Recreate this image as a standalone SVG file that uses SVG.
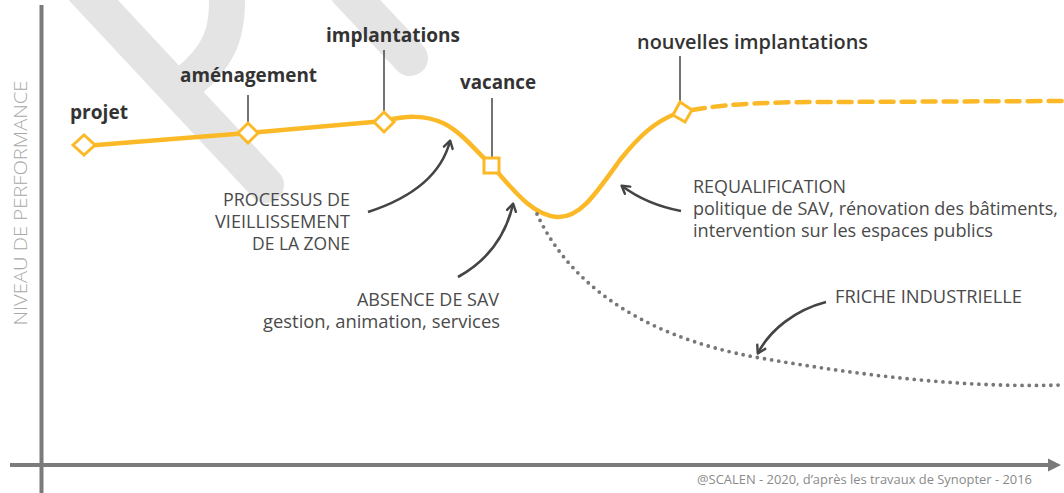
<svg xmlns="http://www.w3.org/2000/svg" width="1064" height="493" viewBox="0 0 1064 493">
<style>
.wm{fill:none;stroke:#e4e4e4;stroke-width:36}
.axis{stroke:#7b7b7b;stroke-width:4;fill:none}
.curve{fill:none;stroke:#fbb927;stroke-width:4.5;stroke-linejoin:round;stroke-linecap:round}
.mk{fill:#fff;stroke:#fbb927;stroke-width:3}
.lead{stroke:#444;stroke-width:1.5}
.arr{fill:none;stroke:#444;stroke-width:2.6;marker-end:url(#ah)}
.bold{font-family:"Open Sans","Liberation Sans",sans-serif;font-weight:700;font-size:19.5px;fill:#333}
.semi{font-family:"Open Sans","Liberation Sans",sans-serif;font-weight:600;font-size:19.5px;fill:#333}
.lbl{font-family:"Open Sans","Liberation Sans",sans-serif;font-size:17.6px;fill:#4a4a4a}
</style>
<defs>
<marker id="ah" markerUnits="userSpaceOnUse" viewBox="0 0 12 12" refX="9" refY="6" markerWidth="12" markerHeight="12" orient="auto">
<path d="M2,1.5 L9.5,6 L2,10.5" fill="none" stroke="#444" stroke-width="2.4" stroke-linecap="round" stroke-linejoin="round"/>
</marker>
</defs>
<rect width="1064" height="493" fill="#fff"/>
<g id="watermark">
<path class="wm" d="M82,-12 L266,185" stroke-linecap="round"/>
<path class="wm" d="M227,-5 C228,30 222,55 185,84" stroke-width="38"/>
<path class="wm" d="M348,-8 L410,58" stroke-width="34" stroke-linecap="round"/>
</g>
<g id="axes">
<line class="axis" x1="41.5" y1="5" x2="41.5" y2="493"/>
<line class="axis" x1="10" y1="465" x2="1050" y2="465"/>
<polygon points="1048,458.5 1061,465 1048,471.5" fill="#7b7b7b"/>
<text transform="translate(27,203) rotate(-90)" text-anchor="middle" font-family="'Open Sans','Liberation Sans',sans-serif" font-size="17.5" font-weight="300" fill="#a8a8a8" textLength="245" lengthAdjust="spacingAndGlyphs">NIVEAU DE PERFORMANCE</text>
</g>
<g id="connectors">
<path class="curve" d="M84,146 L248,133 L384,121 C405,116 425,114 445,124 C462,133 475,150 491,165 C510,185 530,215 557,217 C580,218 595,195 620,160 C640,135 655,122 675,114"/>
<path class="curve" d="M692,110 C730,103 780,102 830,102 L1062,101" stroke-dasharray="13 8" stroke-linecap="butt"/>
<path d="M537,214 C565,275 630,335 760,358 C860,375 960,388 1060,385" fill="none" stroke="#777" stroke-width="3.8" stroke-linecap="round" stroke-dasharray="0 7.2"/>
<line class="lead" x1="248" y1="95" x2="248" y2="123"/>
<line class="lead" x1="384" y1="50" x2="384" y2="112"/>
<line class="lead" x1="492" y1="98" x2="492" y2="158"/>
<line class="lead" x1="680" y1="56" x2="680" y2="102"/>
<path class="arr" d="M368,212 C405,200 440,180 450,141"/>
<path class="arr" d="M458,277 C485,262 505,240 513,204"/>
<path class="arr" d="M681,211 C660,207 638,198 622,186"/>
<path class="arr" d="M826,302 C795,310 770,330 758,353"/>
</g>
<g id="projet">
<polygon class="mk" points="73,145 84,135 95,145 84,155"/>
<text class="bold" x="70" y="119" textLength="58" lengthAdjust="spacingAndGlyphs">projet</text>
</g>
<g id="amenagement">
<polygon class="mk" points="238,133 248,123 258,133 248,143"/>
<text class="bold" x="180" y="82" textLength="137" lengthAdjust="spacingAndGlyphs">aménagement</text>
</g>
<g id="implantations">
<polygon class="mk" points="374,122 384,112 394,122 384,132"/>
<text class="bold" x="326" y="42" textLength="134" lengthAdjust="spacingAndGlyphs">implantations</text>
</g>
<g id="vacance">
<rect class="mk" x="484" y="158" width="15" height="15"/>
<text class="bold" x="460" y="89" textLength="76" lengthAdjust="spacingAndGlyphs">vacance</text>
</g>
<g id="nouvelles">
<polygon class="mk" points="680,102 692,110 685,122 673,115"/>
<text class="semi" x="637" y="49" textLength="231" lengthAdjust="spacingAndGlyphs">nouvelles implantations</text>
</g>
<g id="processus">
<text class="lbl" text-anchor="end" x="350" y="206" textLength="127" lengthAdjust="spacingAndGlyphs">PROCESSUS DE</text>
<text class="lbl" text-anchor="end" x="350" y="228" textLength="135" lengthAdjust="spacingAndGlyphs">VIEILLISSEMENT</text>
<text class="lbl" text-anchor="end" x="350" y="250" textLength="98" lengthAdjust="spacingAndGlyphs">DE LA ZONE</text>
</g>
<g id="absence">
<text class="lbl" text-anchor="end" x="499" y="306" textLength="142" lengthAdjust="spacingAndGlyphs">ABSENCE DE SAV</text>
<text class="lbl" text-anchor="end" x="500" y="328" textLength="237" lengthAdjust="spacingAndGlyphs">gestion, animation, services</text>
</g>
<g id="requalification">
<text class="lbl" x="693" y="193" textLength="153" lengthAdjust="spacingAndGlyphs">REQUALIFICATION</text>
<text class="lbl" x="693" y="215" textLength="365" lengthAdjust="spacingAndGlyphs">politique de SAV, rénovation des bâtiments,</text>
<text class="lbl" x="693" y="237" textLength="300" lengthAdjust="spacingAndGlyphs">intervention sur les espaces publics</text>
</g>
<g id="friche">
<text class="lbl" x="835" y="303" textLength="187" lengthAdjust="spacingAndGlyphs">FRICHE INDUSTRIELLE</text>
</g>
<text x="697" y="484" font-family="'Open Sans','Liberation Sans',sans-serif" font-size="12.5" fill="#8a8a8a" textLength="335" lengthAdjust="spacingAndGlyphs">@SCALEN - 2020, d’après les travaux de Synopter - 2016</text>
</svg>
